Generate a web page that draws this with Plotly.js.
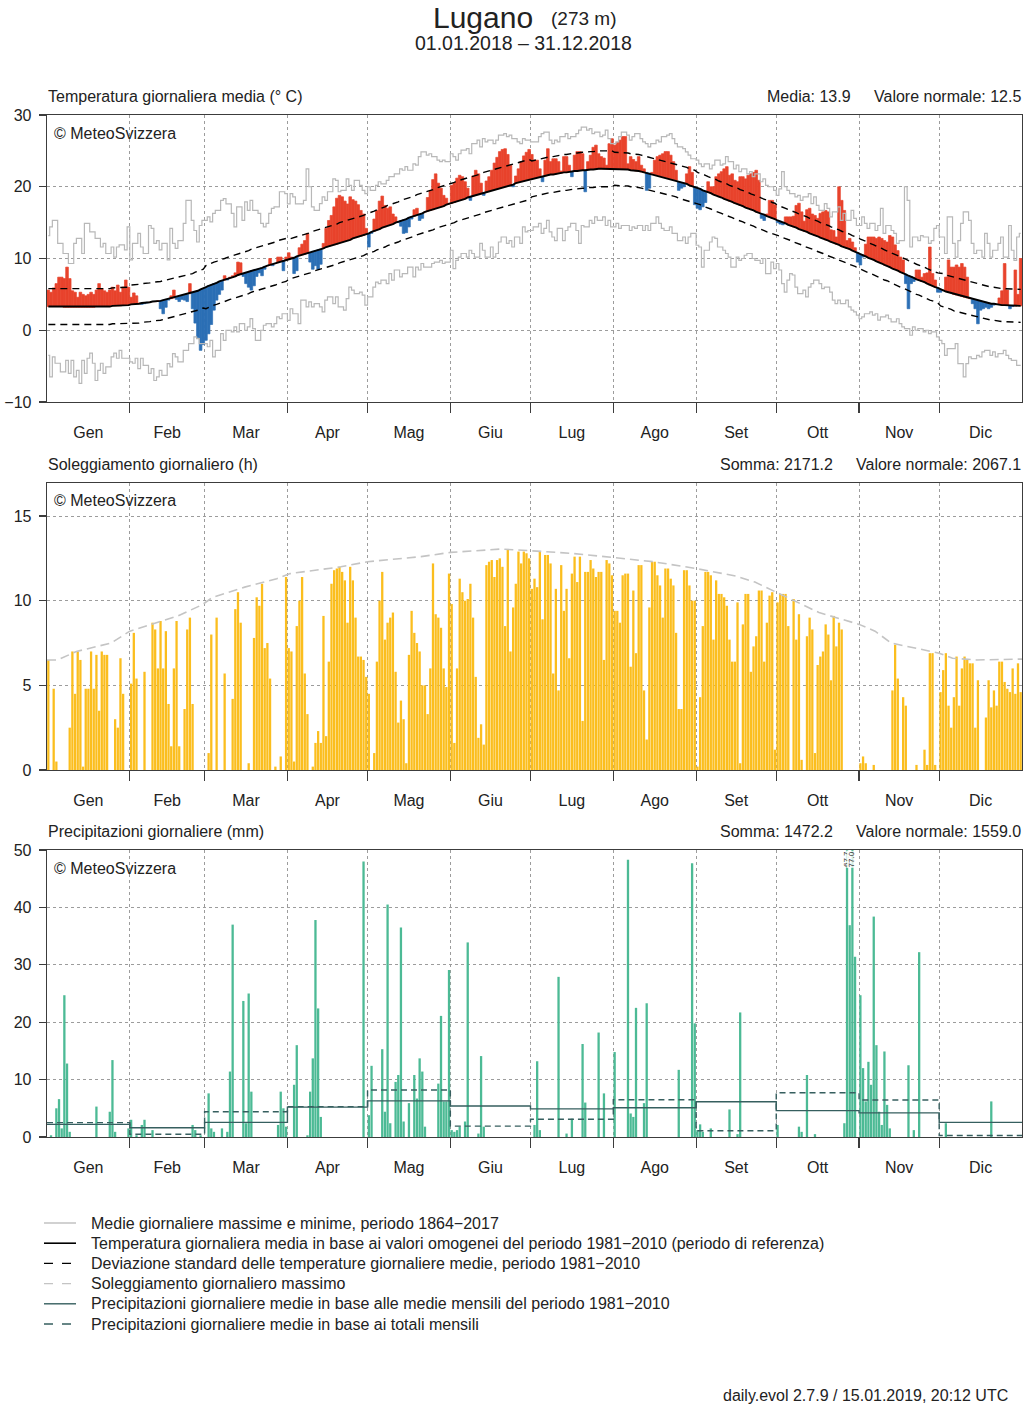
<!DOCTYPE html>
<html><head><meta charset="utf-8">
<script src="https://cdn.plot.ly/plotly-3.0.1.min.js"></script>
<style>html,body{margin:0;padding:0;background:#fff}#chart{width:1024px;height:1408px}</style>
</head><body><div id="chart"></div>
<script>
// ---------------- DATA ----------------
const monthNames = ['Gen','Feb','Mar','Apr','Mag','Giu','Lug','Ago','Set','Ott','Nov','Dic'];
const monthDays = [31,28,31,30,31,30,31,31,30,31,30,31];

// normal daily mean temperature 1981-2010 (°C)
const tempNormal = [
3.3,3.3,3.3,3.3,3.3,3.3,3.2,3.2,3.2,3.2,3.2,3.2,3.2,3.2,3.2,3.2,3.2,3.2,3.3,3.3,3.3,3.3,3.3,3.3,3.4,3.4,3.4,3.4,3.5,3.5,3.5,
3.6,3.6,3.7,3.7,3.8,3.8,3.9,3.9,4.0,4.0,4.1,4.1,4.2,4.3,4.3,4.4,4.5,4.6,4.7,4.8,4.9,5.0,5.1,5.2,5.4,5.5,5.7,5.8,
6.0,6.2,6.3,6.5,6.6,6.8,6.9,7.0,7.2,7.3,7.4,7.5,7.7,7.8,7.9,8.0,8.1,8.3,8.4,8.5,8.6,8.7,8.9,9.0,9.1,9.2,9.3,9.5,9.6,9.7,9.8,
9.9,10.0,10.1,10.3,10.4,10.5,10.6,10.7,10.8,11.0,11.1,11.2,11.3,11.4,11.6,11.7,11.8,11.9,12.0,12.2,12.3,12.4,12.5,12.6,12.8,12.9,13.0,13.1,13.2,13.4,
13.5,13.7,13.8,14.0,14.1,14.3,14.4,14.6,14.7,14.8,15.0,15.1,15.3,15.4,15.5,15.7,15.8,15.9,16.1,16.2,16.3,16.5,16.6,16.7,16.8,17.0,17.1,17.2,17.3,17.5,17.6,
17.7,17.8,18.0,18.1,18.2,18.3,18.5,18.6,18.7,18.8,18.9,19.0,19.2,19.3,19.4,19.5,19.6,19.7,19.8,19.9,20.0,20.1,20.2,20.3,20.5,20.6,20.7,20.8,20.9,21.0,
21.1,21.2,21.3,21.4,21.4,21.5,21.6,21.7,21.7,21.8,21.9,21.9,22.0,22.0,22.1,22.1,22.2,22.2,22.3,22.3,22.3,22.4,22.4,22.4,22.5,22.5,22.5,22.5,22.5,22.5,22.5,
22.5,22.5,22.5,22.4,22.4,22.4,22.3,22.3,22.2,22.2,22.1,22.0,22.0,21.9,21.8,21.7,21.6,21.5,21.4,21.3,21.2,21.1,21.0,20.9,20.7,20.6,20.5,20.4,20.2,20.1,20.0,
19.8,19.7,19.5,19.4,19.2,19.1,18.9,18.8,18.6,18.5,18.3,18.2,18.0,17.9,17.7,17.6,17.4,17.3,17.1,17.0,16.8,16.7,16.5,16.4,16.2,16.1,15.9,15.8,15.6,15.5,
15.3,15.2,15.0,14.9,14.7,14.6,14.4,14.3,14.1,14.0,13.8,13.7,13.5,13.4,13.2,13.1,12.9,12.8,12.6,12.5,12.3,12.2,12.0,11.9,11.7,11.6,11.4,11.3,11.1,11.0,10.8,
10.6,10.5,10.3,10.1,10.0,9.8,9.6,9.5,9.3,9.1,9.0,8.8,8.6,8.5,8.3,8.1,8.0,7.8,7.6,7.5,7.3,7.1,7.0,6.8,6.7,6.5,6.3,6.2,6.0,5.9,
5.7,5.6,5.4,5.3,5.2,5.0,4.9,4.8,4.7,4.6,4.5,4.4,4.3,4.2,4.1,4.0,3.9,3.9,3.8,3.7,3.7,3.6,3.6,3.5,3.5,3.5,3.4,3.4,3.4,3.4,3.4
];
// monthly standard deviation of daily mean temperature (°C)
const tempSd = [2.5,2.7,3.0,2.8,2.8,2.8,2.5,2.3,2.2,2.1,2.1,2.3];

// daily mean temperature 2018 (°C)
const temp = [
5.6,5.3,5.9,6.5,7.4,7.4,7.2,8.8,7.2,5.5,5.3,4.6,5.3,5.0,4.8,5.0,5.3,5.0,5.6,6.5,5.8,5.5,5.3,5.6,6.0,5.5,6.3,5.3,6.0,7.0,6.0,
4.6,5.2,4.8,3.8,3.6,3.7,3.8,3.9,4.0,4.0,4.1,3.0,2.3,3.2,4.2,4.8,5.6,4.3,4.0,4.3,4.2,4.0,6.5,3.0,1.0,-1.0,-2.8,-2.0,
-1.4,-0.5,0.8,2.8,4.2,5.0,5.6,7.6,7.0,7.4,7.6,8.0,9.5,9.4,7.5,6.5,6.0,5.6,6.2,7.5,8.0,7.6,8.5,9.0,10.0,9.0,9.3,10.2,10.2,8.3,10.2,
10.8,10.2,7.9,8.3,11.5,12.0,12.5,13.5,9.5,8.5,9.0,8.5,9.2,12.1,14.2,15.3,16.0,17.2,18.4,18.8,18.6,18.0,17.6,18.6,18.2,18.0,17.5,16.7,16.2,14.2,
11.6,13.5,15.5,16.7,18.0,18.7,17.4,17.0,17.2,16.2,15.8,15.0,14.5,13.5,13.6,14.4,15.5,16.8,17.0,15.3,15.6,16.5,18.5,19.5,21.0,21.8,20.5,19.8,18.8,18.4,17.7,
20.2,20.6,21.2,21.6,21.4,20.7,19.8,18.1,21.5,22.3,21.8,20.5,18.8,20.8,21.4,22.3,23.3,24.1,24.9,25.2,25.3,24.5,23.0,20.0,21.5,22.5,23.5,24.3,24.8,25.2,
24.5,23.7,23.7,22.5,20.7,23.7,25.3,23.5,23.9,23.9,23.5,22.2,24.2,24.2,23.0,21.4,24.4,24.9,24.9,24.6,19.3,23.5,24.4,25.5,25.8,24.6,24.2,24.0,23.0,26.0,26.7,
25.8,26.2,26.5,27.0,27.0,23.2,24.2,23.8,23.5,24.2,23.0,22.5,19.5,19.8,22.0,23.7,24.2,24.4,24.6,24.9,24.9,24.4,23.5,22.3,19.5,19.8,20.0,21.8,22.8,22.0,17.5,
17.0,16.8,17.2,17.8,20.7,20.0,20.0,21.4,21.8,22.1,22.5,22.8,21.6,21.8,20.9,20.7,21.4,21.4,21.1,21.6,21.8,22.0,22.3,20.9,15.6,15.3,16.2,18.1,18.1,17.5,
15.0,14.8,14.7,15.8,15.8,15.8,15.9,17.4,17.7,16.5,15.2,16.8,17.0,16.2,16.0,15.6,16.3,16.5,16.7,16.5,14.0,13.9,13.0,20.0,18.1,16.7,12.5,12.8,12.3,11.5,9.5,
9.1,10.2,12.0,13.0,13.0,13.0,12.8,13.0,12.8,12.5,12.3,13.2,13.0,11.9,11.1,10.2,9.8,6.5,3.0,6.5,6.8,8.4,8.4,7.4,7.9,8.0,11.6,7.9,7.0,5.3,
5.3,5.6,7.4,9.8,8.8,8.8,9.1,8.8,9.3,8.8,7.4,4.5,3.7,3.0,0.9,2.8,3.0,3.2,3.0,3.2,3.5,3.6,4.5,5.5,9.3,5.6,3.0,3.3,8.4,5.0,10.0
];

// highest daily mean 1864-2017 (°C)
const tempRecMax = [
13.2,14.4,15.3,15.3,12.1,12.1,10.7,10.7,9.3,9.3,12.1,12.8,12.8,10.7,14.9,14.9,13.7,13.7,12.8,12.8,11.6,12.1,10.7,10.7,11.6,10.2,11.6,11.9,11.9,11.2,14.4,
9.8,12.1,12.1,13.5,11.6,10.7,10.7,14.6,14.2,12.1,12.5,11.2,12.1,12.1,9.8,14.2,12.1,11.4,12.5,12.5,14.9,18.1,18.1,15.3,13.9,12.3,14.6,15.3,
15.3,15.8,15.1,16.3,16.7,16.7,18.1,18.35,17.6,17.6,16.3,14.4,17.2,17.2,15.3,17.9,16.7,18.1,16.7,16.7,16.3,14.9,14.4,14.9,16.3,17.0,17.2,17.2,19.3,19.3,19.05,
17.6,19.05,18.6,17.6,17.6,17.6,18.1,22.5,20.0,17.2,16.7,16.7,17.65,18.6,18.1,19.3,19.3,21.1,20.9,19.3,19.5,19.5,21.1,20.2,19.5,20.9,20.9,20.2,19.5,19.05,
20.0,19.5,19.5,20.2,20.7,20.4,20.4,20.9,21.4,21.4,21.8,21.8,22.5,22.3,22.8,22.3,22.3,23.2,23.0,24.2,24.85,24.85,24.4,24.6,24.2,24.2,23.7,23.5,23.7,23.5,23.5,
24.6,24.2,23.7,24.6,25.1,25.1,25.3,24.6,26.0,26.0,26.5,25.55,26.7,26.25,26.5,26.5,26.0,26.5,27.2,27.2,27.4,27.0,27.2,26.7,26.7,26.25,26.0,26.7,26.5,26.5,
26.25,26.25,26.25,27.0,27.4,27.6,27.6,26.5,26.0,26.5,26.25,27.0,27.0,27.4,26.7,27.0,27.0,27.4,27.9,28.3,28.3,27.9,28.1,27.4,27.6,27.6,27.0,27.2,27.9,26.7,26.0,
26.0,26.25,27.0,27.6,27.6,27.2,26.5,27.0,27.4,27.4,26.7,26.25,26.0,25.55,26.0,26.0,26.5,26.25,27.0,27.0,27.2,27.4,26.7,26.0,25.55,25.55,25.3,24.85,24.4,23.9,23.9,
23.7,23.2,22.8,23.2,23.2,22.5,23.0,23.7,23.7,23.0,23.2,24.2,23.5,23.5,22.5,23.0,22.1,22.5,22.5,21.8,22.1,21.4,21.8,21.8,20.7,21.1,20.2,20.0,20.0,19.5,
18.8,19.7,22.1,20.0,19.5,19.05,19.05,18.6,18.8,18.1,18.6,18.6,19.05,17.65,18.6,17.4,16.7,16.7,17.65,17.0,15.8,16.5,16.5,17.2,15.3,16.3,15.3,15.3,16.7,15.6,14.6,
14.6,15.8,14.9,14.2,14.9,14.9,13.9,14.6,17.0,13.5,14.6,14.6,13.9,13.5,12.1,12.5,12.5,20.0,18.1,11.6,13.0,13.0,12.5,13.2,13.0,13.0,12.1,12.5,14.2,14.6,
13.0,13.0,10.7,15.8,15.8,12.1,10.2,12.5,14.9,16.5,16.5,15.3,12.1,10.7,11.15,11.15,10.2,13.5,12.1,10.2,11.15,11.15,12.1,13.0,10.2,10.2,14.6,11.15,9.75,13.0,13.5
];
// lowest daily mean 1864-2017 (°C)
const tempRecMin = [
-3.5,-6.5,-3.7,-4.6,-4.6,-5.8,-5.8,-4.2,-6.0,-4.2,-6.5,-5.6,-7.4,-4.2,-6.0,-3.9,-3.2,-4.6,-7.0,-5.6,-4.6,-6.0,-5.1,-5.1,-3.7,-3.2,-3.9,-2.8,-3.9,-3.9,-3.9,
-4.4,-4.6,-3.9,-5.35,-3.9,-4.9,-4.9,-6.0,-5.35,-7.0,-6.5,-5.6,-6.3,-6.3,-4.65,-5.1,-3.25,-3.7,-4.4,-4.4,-2.8,-2.8,-1.86,-1.86,-0.93,-1.16,-1.86,-1.86,
-1.86,-2.3,-1.4,-3.7,-2.8,-2.8,-0.47,-1.4,0.0,0.0,-0.23,0.46,-0.23,0.93,0.93,0.0,0.46,1.62,0.23,-1.4,-1.4,0.0,0.7,0.93,0.93,0.46,0.93,1.86,1.62,2.3,2.3,
1.39,3.0,2.3,2.3,0.93,4.2,4.2,3.25,3.95,3.25,3.7,3.7,3.25,2.55,4.2,4.65,4.65,3.7,4.65,3.25,3.25,2.8,4.4,6.0,5.6,5.1,5.1,5.3,4.9,3.5,
4.65,4.65,6.0,6.7,6.5,7.0,7.0,6.5,7.9,7.0,8.4,8.4,7.45,7.9,7.9,8.8,8.8,7.45,8.8,8.4,9.3,8.8,8.8,8.8,9.3,9.5,9.5,9.75,9.3,9.5,9.5,
11.15,8.6,9.75,10.2,10.7,10.7,10.2,11.15,10.7,10.2,10.2,12.1,11.15,10.2,10.2,11.6,10.2,10.7,12.3,13.0,13.0,12.1,12.5,11.6,13.0,13.0,12.1,14.4,13.7,13.9,
13.9,14.4,14.4,14.9,13.5,14.2,15.3,13.7,13.0,12.5,14.2,14.2,12.5,13.9,14.4,14.9,14.9,13.9,12.1,14.6,14.4,14.4,15.3,14.9,15.8,15.3,15.3,15.8,14.6,15.3,14.4,
14.4,14.9,14.2,14.6,14.6,14.6,13.9,14.4,14.2,14.6,14.6,13.9,14.6,13.9,14.9,14.9,15.8,14.9,14.2,13.9,13.9,14.4,13.5,13.5,12.5,12.5,13.0,12.1,13.0,13.5,13.5,
11.85,11.6,8.8,11.15,11.15,12.3,13.0,12.8,11.6,11.6,11.15,10.7,10.2,8.8,8.8,10.2,9.75,10.0,10.45,10.7,10.7,10.0,9.75,9.75,9.3,10.0,7.9,7.9,9.5,8.6,
9.3,8.4,6.5,5.3,7.0,7.9,7.7,6.0,5.1,5.1,5.6,4.65,6.0,6.5,7.0,7.0,6.5,5.8,6.0,6.0,5.3,4.2,3.7,4.2,3.7,3.7,4.2,3.25,2.8,2.55,2.1,
1.6,1.86,2.3,2.3,2.55,2.1,2.3,1.4,1.86,1.86,2.1,1.6,1.16,1.16,1.6,0.93,0.46,0.23,0.23,-0.7,0.46,0.0,0.23,0.23,-0.23,0.0,-0.47,-0.23,-0.23,-0.93,
-1.4,-1.86,-3.5,-2.55,-2.55,-2.55,-1.86,-4.65,-4.65,-6.5,-4.65,-3.7,-3.95,-3.95,-3.5,-3.7,-3.0,-2.8,-2.8,-3.5,-3.0,-3.7,-3.25,-3.25,-2.8,-3.5,-3.95,-4.2,-4.2,-4.9,-4.9
];

// daily sunshine 2018 (h)
const sunshine = [
6.5,0,4.8,0.5,0,0,0,0,2.5,7.0,4.5,7.0,6.5,0.2,4.8,4.8,7.0,4.8,6.8,3.5,7.0,6.8,6.8,0,0,3.0,2.5,6.6,4.5,0,0,
5.1,8.1,5.4,0,0,5.8,0,0,8.7,8.3,6.0,8.8,6.0,8.2,3.9,1.4,6.0,8.8,1.4,0,3.6,8.3,9.0,3.9,0,0,0,0,
0,1.0,8.0,0,9.0,0,0,5.7,0,0,4.2,9.5,10.5,8.7,0,0,0.4,0,7.8,10.2,9.7,11.0,7.2,7.5,5.4,0,0.2,0,0.8,0,11.4,
7.2,7.0,0.5,8.5,10.0,11.4,5.7,3.3,0,0.2,1.6,2.3,1.6,9.1,2.0,6.4,11.0,11.8,11.9,12.0,11.7,11.2,8.7,12.0,11.2,9.0,6.7,6.7,6.5,5.5,
4.5,0,1.0,6.4,10.0,11.7,7.7,8.7,9.0,9.3,5.8,2.8,4.1,3.0,0.4,6.8,9.4,8.1,7.5,7.0,5.0,5.0,3.3,6.0,12.2,9.2,9.0,8.4,6.0,4.9,11.6,
9.8,1.6,6.0,11.3,10.5,10.0,10.1,11.0,9.0,5.5,1.9,2.7,1.5,12.1,12.3,12.4,11.4,12.4,12.5,12.0,8.5,13.0,7.0,9.6,11.0,12.9,12.2,12.9,12.8,12.5,
10.7,11.3,10.8,12.9,8.9,12.7,12.7,12.2,5.7,10.7,4.7,12.1,9.4,10.7,6.6,11.6,12.6,11.1,12.6,2.9,11.7,11.7,12.4,11.9,11.4,11.7,11.7,6.5,12.4,12.2,11.5,
9.4,9.4,8.7,11.5,11.6,11.6,6.1,10.6,6.9,12.1,12.1,4.7,1.8,9.6,12.3,12.3,11.5,10.9,9.0,11.9,11.9,11.3,10.9,8.1,3.6,3.6,11.8,11.8,10.9,10.0,10.0,
0.2,4.3,8.5,11.7,11.7,11.5,7.7,11.2,10.4,10.4,10.2,9.7,7.7,6.4,6.4,9.9,0.4,8.6,10.4,10.4,5.8,7.3,7.9,10.6,10.6,6.4,8.7,10.3,10.5,1.2,
9.9,10.4,10.4,10.4,8.5,0,10.1,7.7,9.2,0.6,0,7.9,9.0,8.3,1.0,6.2,6.7,7.0,8.6,8.0,5.3,9.1,7.3,8.7,8.3,0,0,0,0,0,0,
0.4,0.8,0.4,0,0,0.3,0,0,0,0,0,0,4.7,7.4,5.4,0,4.3,3.8,0,0,0,0.3,0,0,1.2,0.3,6.9,6.9,0.3,0,
4.6,5.9,6.9,3.8,2.5,4.3,6.7,3.8,6.0,6.7,6.5,6.3,6.3,2.5,5.3,0,0,3.1,5.3,3.7,4.7,3.8,6.4,6.4,5.2,4.8,4.6,6.0,4.5,6.3,4.6
];
// maximum possible daily sunshine (h): day of year and value
const sunMaxDay = [0,4,11,24,31,39,49,58,62,74,86,91,110,120,140,151,170,181,196,212,227,243,258,265,273,289,304,310,316,334,339,348,365];
const sunMaxVal = [6.5,6.5,7.0,7.5,8.2,8.6,9.1,9.75,10.2,10.8,11.3,11.6,12.0,12.3,12.6,12.85,13.05,12.95,12.8,12.55,12.3,11.9,11.45,11.1,10.5,9.3,8.6,8.2,7.5,6.9,6.6,6.5,6.55];

// daily precipitation 2018 (mm)
const precip = [
0,0.3,0,5.0,6.6,1.5,24.7,12.8,0.9,0,0,0,0,0,0,0,0,0,5.3,0,0,0,0,4.4,13.4,0.9,0,0,0,0,1.5,
3.0,0,0.3,0,2.1,3.0,0,0,1.2,0,0,0,0,0,0,0,0,0,0,0,0,0,0,2.1,1.2,0,0.3,0,
0,7.6,1.5,0.9,0,0,1.5,0,0.9,11.4,37.0,0,0,0,23.7,2.4,25.0,7.9,0,0,0,0,0,0,0,0,0,2.1,7.9,5.0,1.8,
0,0,9.1,16.0,0,0,0,0.3,7.9,13.7,37.8,22.4,3.5,0,0,0,0,0,0,0,0,0,0,0,0,0,0,0,48.0,0,
3.8,12.4,0,0,0,15.3,4.4,40.5,2.4,0,9.6,10.8,36.5,2.7,0,5.9,0,10.8,6.7,13.7,11.4,1.8,0,0,0,0,9.3,21.1,6.2,6.2,29.1,
1.2,0.9,1.2,1.8,0,2.7,33.9,0,0,0,0.6,14.1,1.8,0,0,0,0,0,0,0,0,0,0,0,0,0,0,0,0,0,
0,2.1,13.2,1.2,0,0,0,0,0,0,27.9,0,0,0.6,0,3.2,0,0,0,16.2,6.0,0,0,0,0,18.2,0,7.6,0,0,0,
14.8,0,0,0,0,48.3,4.1,3.5,22.5,0,0,5.9,23.3,0,0,0,0,0,0,0,0,0,0,0,11.7,0,0,0,0,47.7,19.8,
1.2,2.2,0.9,0,0,1.5,0,0,0,0,0,0,4.8,0,0,0.5,21.7,0,0,0,0,0,0,0,0,0,0,0,0,0,
2.1,0,0,0,0,0,0,0,1.8,0.9,0,10.8,0,0,0.5,0,0,0,0,0,0,0,0,0,0,2.4,67.7,36.9,77.0,31.4,0,
24.7,12.0,6.2,13.1,9.1,38.4,16.0,4.4,2.1,14.9,5.6,1.5,0,0,0,0,0,0,12.5,0,1.2,0,32.2,0,0,0,0,0,0,0,
0,0,2.4,0,0,0,0,0,0,0,0,0,0,0,0,0,0,0,0,6.2,0,0,0,0,0,0,0,0,0,0,0
];
// mean daily precipitation per month: normal 1981-2010 and 2018 monthly totals (mm/day)
const precipNormalMonthly = [2.2,1.6,2.55,5.2,6.3,5.4,4.9,5.1,6.15,4.6,4.2,2.55];
const precipActualMonthly = [2.5,0.47,4.4,5.3,8.2,1.9,3.1,6.5,1.1,7.7,6.45,0.25];

// ---------------- BUILD ----------------
const bounds = [0];
monthDays.forEach(n => bounds.push(bounds[bounds.length - 1] + n));
const mids = monthDays.map((n, i) => bounds[i] + n / 2);
const monthIdx = [];
monthDays.forEach((n, m) => { for (let k = 0; k < n; k++) monthIdx.push(m); });
const dayX = temp.map((_, i) => i + 0.5);
const sdUpper = tempNormal.map((v, i) => v + tempSd[monthIdx[i]]);
const sdLower = tempNormal.map((v, i) => v - tempSd[monthIdx[i]]);
const anomaly = temp.map((v, i) => v - tempNormal[i]);
const anomColor = anomaly.map(a => a >= 0 ? '#e8432c' : '#2b6fb5');
const stepY = arr => arr.concat([arr[arr.length - 1]]);

const FONT = 'Liberation Sans, Arial, Helvetica, sans-serif';
const INK = '#222';
const FRAME = '#3c3c3c';
const GRID = '#9c9c9c';

const traces = [
  {x: dayX, y: tempRecMax, type: 'scatter', mode: 'lines', line: {color: '#b8b8b8', width: 1.2, shape: 'hvh'}, xaxis: 'x', yaxis: 'y', hoverinfo: 'skip'},
  {x: dayX, y: tempRecMin, type: 'scatter', mode: 'lines', line: {color: '#b8b8b8', width: 1.2, shape: 'hvh'}, xaxis: 'x', yaxis: 'y', hoverinfo: 'skip'},
  {x: dayX, y: anomaly, base: tempNormal, type: 'bar', width: 1, marker: {color: anomColor, line: {width: 0.7, color: anomColor}}, xaxis: 'x', yaxis: 'y', hoverinfo: 'skip'},
  {x: dayX, y: tempNormal, type: 'scatter', mode: 'lines', line: {color: '#000', width: 1.9}, xaxis: 'x', yaxis: 'y', hoverinfo: 'skip'},
  {x: dayX, y: sdUpper, type: 'scatter', mode: 'lines', line: {color: '#000', width: 1.4, dash: '7px,5px'}, xaxis: 'x', yaxis: 'y', hoverinfo: 'skip'},
  {x: dayX, y: sdLower, type: 'scatter', mode: 'lines', line: {color: '#000', width: 1.4, dash: '7px,5px'}, xaxis: 'x', yaxis: 'y', hoverinfo: 'skip'},

  {x: dayX, y: sunshine, type: 'bar', width: 0.86, marker: {color: '#fbbe1e', line: {width: 0}}, xaxis: 'x2', yaxis: 'y2', hoverinfo: 'skip'},
  {x: sunMaxDay, y: sunMaxVal, type: 'scatter', mode: 'lines', line: {color: '#c4c4c4', width: 1.6, dash: '9px,5px'}, xaxis: 'x2', yaxis: 'y2', hoverinfo: 'skip'},

  {x: dayX, y: precip, type: 'bar', width: 0.86, marker: {color: '#4cba95', line: {width: 0}}, xaxis: 'x3', yaxis: 'y3', hoverinfo: 'skip'},
  {x: bounds, y: stepY(precipNormalMonthly), type: 'scatter', mode: 'lines', line: {color: '#365f5f', width: 1.4, shape: 'hv'}, xaxis: 'x3', yaxis: 'y3', hoverinfo: 'skip'},
  {x: bounds, y: stepY(precipActualMonthly), type: 'scatter', mode: 'lines', line: {color: '#365f5f', width: 1.4, shape: 'hv', dash: '6px,4px'}, xaxis: 'x3', yaxis: 'y3', hoverinfo: 'skip'}
];

const W = 1024, H = 1408;
const px = v => v / W;
const py = v => 1 - v / H;

function xAxis(anchor) {
  return {
    domain: [px(47), px(1022)], anchor: anchor, range: [0, 365],
    tickmode: 'array', tickvals: mids, ticktext: monthNames,
    ticks: 'outside', ticklen: 15, tickcolor: 'rgba(0,0,0,0)',
    showgrid: false, zeroline: false,
    showline: true, mirror: true, linecolor: FRAME, linewidth: 1.3,
    tickfont: {size: 16, color: INK, family: FONT},
    minor: {tickmode: 'array', tickvals: bounds.slice(1, 12), ticks: 'outside', ticklen: 10,
            tickcolor: FRAME, tickwidth: 1.2, showgrid: true, gridcolor: GRID, griddash: 'dot', gridwidth: 1},
    fixedrange: true
  };
}
function yAxis(anchor, top, bottom, range, vals) {
  return {
    domain: [py(bottom), py(top)], anchor: anchor, range: range,
    tickmode: 'array', tickvals: vals,
    ticks: 'outside', ticklen: 7, tickcolor: FRAME, tickwidth: 1.2, ticklabelstandoff: 4,
    showgrid: true, gridcolor: GRID, griddash: 'dot', gridwidth: 1, zeroline: false,
    showline: true, mirror: true, linecolor: FRAME, linewidth: 1.3,
    tickfont: {size: 16, color: INK, family: FONT},
    fixedrange: true
  };
}

const ann = [];
function txt(text, x, y, anchor, size, extra) {
  ann.push(Object.assign({xref: 'paper', yref: 'paper', x: px(x), y: py(y), text: text, showarrow: false,
    xanchor: anchor, yanchor: 'middle', font: {size: size, color: INK, family: FONT}}, extra || {}));
}
txt('Lugano', 483, 17, 'center', 30);
txt('(273 m)', 549, 18, 'left', 19);
txt('01.01.2018 \u2013 31.12.2018', 523, 43, 'center', 19.5);

txt('Temperatura giornaliera media (\u00b0 C)', 46, 97, 'left', 16);
txt('Media: 13.9', 765, 97, 'left', 16);
txt('Valore normale: 12.5', 1023, 97, 'right', 16);
txt('Soleggiamento giornaliero (h)', 46, 464, 'left', 16);
txt('Somma: 2171.2', 718, 464, 'left', 16);
txt('Valore normale: 2067.1', 1023, 464, 'right', 16);
txt('Precipitazioni giornaliere (mm)', 46, 831, 'left', 16);
txt('Somma: 1472.2', 718, 831, 'left', 16);
txt('Valore normale: 1559.0', 1023, 831, 'right', 16);

[133, 500, 868].forEach(y => txt('\u00a9 MeteoSvizzera', 52, y, 'left', 16));

// labels for precipitation beyond the axis
precip.forEach((v, i) => {
  if (v > 50) ann.push({xref: 'x3', yref: 'y3', x: i + 0.5, y: 50, text: v.toFixed(1), textangle: -90,
    showarrow: false, xanchor: 'center', yanchor: 'top', font: {size: 8, color: '#333', family: FONT},
    bgcolor: 'rgba(255,255,255,0.75)', borderpad: 0});
});

// legend (drawn manually)
const legendItems = [
  {t: 'Medie giornaliere massime e minime, periodo 1864\u22122017', c: '#b8b8b8', d: 'solid', w: 1.3},
  {t: 'Temperatura giornaliera media in base ai valori omogenei del periodo 1981\u22122010 (periodo di referenza)', c: '#000', d: 'solid', w: 1.6},
  {t: 'Deviazione standard delle temperature giornaliere medie, periodo 1981\u22122010', c: '#000', d: 'dash', w: 1.4},
  {t: 'Soleggiamento giornaliero massimo', c: '#c4c4c4', d: 'dash', w: 1.4},
  {t: 'Precipitazioni giornaliere medie in base alle medie mensili del periodo 1981\u22122010', c: '#365f5f', d: 'solid', w: 1.4},
  {t: 'Precipitazioni giornaliere medie in base ai totali mensili', c: '#365f5f', d: 'dash', w: 1.4}
];
const shapes = [];
legendItems.forEach((it, k) => {
  const y = 1223 + k * 20.2;
  shapes.push({type: 'line', xref: 'paper', yref: 'paper', x0: px(44), x1: px(76), y0: py(y), y1: py(y),
    line: {color: it.c, width: it.w, dash: it.d}});
  txt(it.t, 89, y, 'left', 16);
});

txt('daily.evol 2.7.9 / 15.01.2019, 20:12 UTC', 1010, 1395, 'right', 16);

const layout = {
  width: W, height: H, margin: {l: 0, r: 0, t: 0, b: 0},
  paper_bgcolor: '#fff', plot_bgcolor: '#fff',
  font: {family: FONT, size: 16, color: INK},
  showlegend: false, barmode: 'overlay',
  xaxis: xAxis('y'), xaxis2: xAxis('y2'), xaxis3: xAxis('y3'),
  yaxis: yAxis('x', 115, 402, [-10, 30], [-10, 0, 10, 20, 30]),
  yaxis2: yAxis('x2', 483, 770, [0, 16.95], [0, 5, 10, 15]),
  yaxis3: yAxis('x3', 850, 1137, [0, 50], [0, 10, 20, 30, 40, 50]),
  annotations: ann, shapes: shapes
};

Plotly.newPlot('chart', traces, layout, {displayModeBar: false, staticPlot: true});
</script>
</body></html>
